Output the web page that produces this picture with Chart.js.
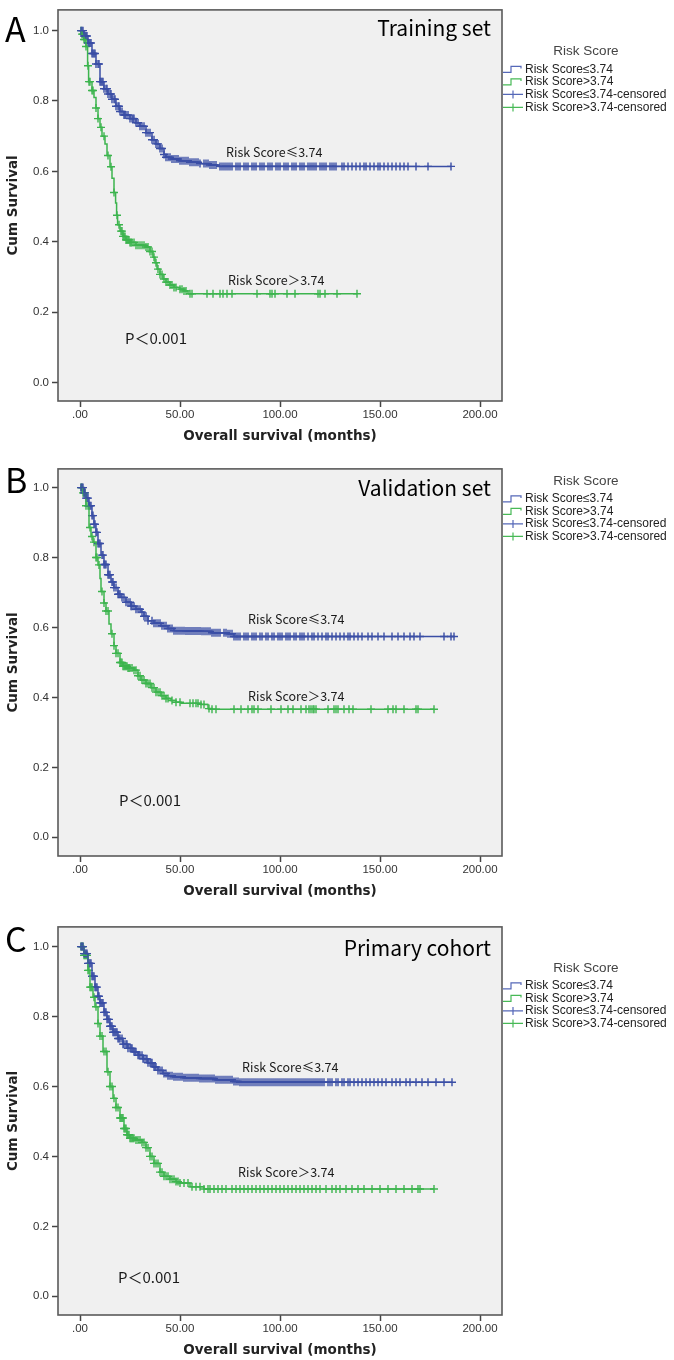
<!DOCTYPE html>
<html><head><meta charset="utf-8">
<script src="https://cdn.jsdelivr.net/npm/chart.js@4.4.0/dist/chart.umd.min.js"></script>
<style>
html,body{margin:0;padding:0;background:#fff;width:674px;height:1360px;overflow:hidden;}
canvas{position:absolute;left:0;display:block;}
</style></head><body>
<canvas id="cA" width="674" height="452" style="top:0px"></canvas>
<canvas id="cB" width="674" height="452" style="top:459px"></canvas>
<canvas id="cC" width="674" height="443" style="top:917px"></canvas>
<script>
// ---------- tick labels & texts ----------
const xTickValues = [0, 50, 100, 150, 200];
const xTickLabels = ['.00', '50.00', '100.00', '150.00', '200.00'];
const yTickValues = [0, 0.2, 0.4, 0.6, 0.8, 1.0];
const yTickLabels = ['0.0', '0.2', '0.4', '0.6', '0.8', '1.0'];
const legendTitle = 'Risk Score';
const legendLabels = ['Risk Score≤3.74', 'Risk Score>3.74', 'Risk Score≤3.74-censored', 'Risk Score>3.74-censored'];
const curveLabelLow = 'Risk Score≤3.74';
const curveLabelHigh = 'Risk Score＞3.74';
const pLabel = 'P＜0.001';
const panelLetters = ['A', 'B', 'C'];
const panelTitles = ['Training set', 'Validation set', 'Primary cohort'];
const xTitle = 'Overall survival (months)';
const yTitle = 'Cum Survival';

// ---------- Panel A: Training set ----------
const tA_low = [0, 2, 4, 6, 8, 10, 12, 14, 16, 18, 20, 22, 25, 28, 30, 33, 36, 38, 40, 42, 43, 46, 50, 55, 60, 65, 69, 185.5];
const sA_low = [1.0, 0.985, 0.965, 0.935, 0.905, 0.855, 0.835, 0.82, 0.805, 0.785, 0.77, 0.76, 0.75, 0.738, 0.728, 0.71, 0.69, 0.678, 0.665, 0.648, 0.64, 0.635, 0.63, 0.626, 0.622, 0.618, 0.614, 0.614];
const cA_low = [0.5,1,1.5,2,2.5,3,3.5,4,4.5,5,5.5,6,6.5,7,7.5,8,9,9.5,10,10.5,11,11.5,12,13,13.5,14,15,15.5,16,17,17.5,18,19,19.5,20,21,22,22.5,23,24,25,26,26.5,27,28,29,30,31,32,33,34,35,36,37,38,39,40,41,42,43,44,45,46,47,48,49,50,51,52,53,54,55,56,57,58,59,60,62,63,64,65,66,67,68,70,71,72,73,74,75,76,78,79,80,82,83,84,86,87,88,90,91,92,94,95,96,98,99,100,102,103,104,106,107,108,110,111,112,114,115,116,117,118,120,121,122,123,125,126,127,128,131,132,134,136,138,140,142,143,145,147,149,150,152,154,156,158,160,162,164,168,174,185.5];
const tA_high = [0, 1, 2, 3, 3.8, 4.3, 6, 7, 8, 9, 10, 11, 12.5, 13.5, 15, 16, 17, 17.8, 18.3, 18.8, 20, 21.5, 23, 25, 28, 33, 35, 36.5, 37.5, 38.5, 40, 41.5, 43, 45, 47, 50, 52, 54, 138.5];
const sA_high = [1.0, 0.99, 0.975, 0.955, 0.90, 0.855, 0.83, 0.81, 0.78, 0.75, 0.725, 0.70, 0.678, 0.645, 0.613, 0.58, 0.54, 0.51, 0.475, 0.448, 0.43, 0.415, 0.405, 0.398, 0.39, 0.385, 0.372, 0.356, 0.34, 0.322, 0.307, 0.294, 0.285, 0.277, 0.27, 0.265, 0.26, 0.252, 0.252];
const cA_high = [0.5,1,1.5,2,2.5,3,4,4.5,5,6,6.5,8,9,10.5,12,14,15.5,17,18.5,19.5,20.5,21,21.5,22,22.5,23,23.5,24,24.5,25,25.5,26,27,28,29,30,31,32,33,34,35,36,37,38,39,40,41,42,43,44,45,46,47,48,50,51,52,53,55,56,63.5,66.5,70,71.5,73.5,76,88.5,95,96,97.5,103.5,107.5,119,120,122.5,128.5,138.5];

// ---------- Panel B: Validation set ----------
const tB_low = [0, 2, 3, 4.5, 6, 7, 8, 9, 10.5, 12, 14, 15.5, 17, 19, 20.5, 23, 25.5, 28, 30.5, 32, 34, 37, 40.5, 44, 47, 53, 60.5, 66, 74, 77, 187];
const sB_low = [1.0, 0.985, 0.97, 0.948, 0.92, 0.895, 0.872, 0.84, 0.807, 0.78, 0.751, 0.73, 0.714, 0.695, 0.686, 0.672, 0.661, 0.652, 0.644, 0.632, 0.619, 0.612, 0.605, 0.597, 0.591, 0.59, 0.589, 0.585, 0.582, 0.574, 0.574];
const cB_low = [0.5,1,1.5,2,2.5,3,3.5,4,4.5,5,5.5,6,6.5,7,7.5,8,8.5,9,9.5,10,11,11.5,12,12.5,13,14,14.5,15,16,16.5,17,18,19,19.5,20,21,22,23,24,25,25.5,26,27,28,29,30,31,32,33,34,36,37,38,39,40,41,42,43,44,45,46,47,48,49,50,51,52,53,54,55,56,57,58,59,60,61,62,63,64,65,66,67,68,69,70,72,73,74,75,76,77,78,79,80,82,83,84,86,87,88,90,91,93,94,96,97,99,100,101,103,104,105,107,108,110,111,112,114,116,117,119,121,123,124,126,128,130,132,134,135,137,139,141,144,146,149,152,156,159,162,165,167,170,182,185.5,187];
const tB_high = [0, 1.5, 3, 4.5, 5.5, 6.5, 8, 9, 10, 10.5, 12, 13, 14.5, 15.5, 17, 18, 20, 21.5, 24, 27, 29, 30.5, 33, 35.5, 38, 40.5, 43, 45.5, 48, 50.5, 60.5, 64, 66, 177];
const sB_high = [1.0, 0.985, 0.948, 0.886, 0.86, 0.844, 0.80, 0.779, 0.74, 0.703, 0.67, 0.647, 0.61, 0.582, 0.548, 0.526, 0.50, 0.489, 0.484, 0.478, 0.462, 0.45, 0.44, 0.428, 0.415, 0.405, 0.397, 0.391, 0.386, 0.383, 0.38, 0.368, 0.366, 0.366];
const cB_high = [0.5,1,1.5,2,2.5,3,4,5,6,7,8,8.5,9.5,11,12,13,14,16,17,18,19,20,20.5,21,21.5,22,22.5,23,23.5,24,24.5,25,26,27,28,29,30,31,32,33,34,35,36,37,38,39,40,41,42,43,44,46,48,50,55,56.5,58,59,60.5,62,64.5,66,68,77,80.5,84,86,87,89,95.5,100.5,104,106.5,110.5,113,114.5,115.5,116.5,117,118,124,127,128,129,132,134.5,136.5,145.5,154,156.5,158,162,168,169,177];

// ---------- Panel C: Primary cohort ----------
const tC_low = [0, 2, 4, 6, 7.5, 9, 10, 12, 13.5, 15, 16.5, 19, 21.5, 24, 26.5, 29, 31.5, 34, 36.5, 39, 41.5, 44, 46.5, 52, 60, 68, 76.5, 80, 186];
const sC_low = [1.0, 0.98, 0.952, 0.915, 0.884, 0.858, 0.839, 0.812, 0.792, 0.772, 0.755, 0.737, 0.721, 0.709, 0.699, 0.689, 0.679, 0.668, 0.656, 0.646, 0.637, 0.631, 0.628, 0.625, 0.623, 0.619, 0.614, 0.612, 0.612];
const cC_low = [0.5,1,1.5,2,2.5,3,3.5,4,4.5,5,5.5,6,6.5,7,7.5,8,8.5,9,9.5,10,10.5,11,11.5,12,12.5,13,13.5,14,14.5,15,15.5,16,16.5,17,17.5,18,18.5,19,19.5,20,21,21.5,22,23,23.5,24,25,25.5,26,27,27.5,28,29,29.5,30,31,31.5,32,33,33.5,34,35,35.5,36,37,37.5,38,39,40,41,42,43,44,45,46,47,48,49,50,51,52,53,54,55,56,57,58,59,60,61,62,63,64,65,66,67,68,69,70,71,72,73,74,75,76,77,78,79,80,81,82,83,84,85,86,87,88,89,90,91,92,93,94,95,96,97,98,99,100,101,102,103,104,105,106,107,108,109,110,111,112,113,114,115,116,117,118,119,120,121,122,124,125,126,128,129,131,132,134,135,137,139,141,143,145,147,149,151,153,156,158,160,163,165,168,171,174,178,182,186];
const tC_high = [0, 2, 4, 5, 6.5, 7.5, 9, 10, 11.5, 13.5, 15, 16.5, 18, 20, 22, 23.5, 25, 28, 31, 33, 35, 37, 40, 42, 45, 48, 50, 55, 62, 177];
const sC_high = [1.0, 0.975, 0.932, 0.884, 0.855, 0.828, 0.78, 0.744, 0.70, 0.642, 0.60, 0.566, 0.54, 0.51, 0.48, 0.462, 0.452, 0.447, 0.44, 0.425, 0.40, 0.38, 0.355, 0.343, 0.335, 0.328, 0.324, 0.313, 0.307, 0.307];
const cC_high = [0.5,1,1.5,2,2.5,3,3.5,4,4.5,5,5.5,6,7,8,9,10,11,12,13,14,15,16,17,18,19,20,20.5,21,21.5,22,22.5,23,23.5,24,24.5,25,25.5,26,26.5,27,28,29,30,31,32,33,34,35,36,37,38,39,40,41,42,43,44,45,46,47,48,49,50,52,54,56,58,60,62,64,65,67,69,71,73,76,78,80,82,84,86,88,90,92,94,96,98,100,102,104,106,108,110,112,114,116,118,120,123,126,128,130,133,136,139,142,146,150,154,158,162,166,169,170,177];

// ---------- styling / layout ----------
const BLUE = '#3a4ea5';
const GREEN = '#3cb44e';
const BLUE_LEG = '#5568b8';
const GREEN_LEG = '#47b956';

const panels = [
  { id: 'cA', idx: 0, boxH: 397, yMin: -0.053, yMax: 1.059,
    lowT: tA_low, lowS: sA_low, lowC: cA_low, highT: tA_high, highS: sA_high, highC: cA_high,
    lblLow: [73, 0.655], lblHigh: [74, 0.289], pPos: [22.5, 0.126],
    letterY: 19, titleY: 18, legTitleY: 41, legY: [59.5, 72, 84.5, 97.5] },
  { id: 'cB', idx: 1, boxH: 393, yMin: -0.0535, yMax: 1.0535,
    lowT: tB_low, lowS: sB_low, lowC: cB_low, highT: tB_high, highS: sB_high, highC: cB_high,
    lblLow: [84, 0.623], lblHigh: [84, 0.403], pPos: [19.5, 0.107],
    letterY: 11, titleY: 19, legTitleY: 12, legY: [30, 42.5, 55, 67.5] },
  { id: 'cC', idx: 2, boxH: 394, yMin: -0.0535, yMax: 1.0563,
    lowT: tC_low, lowS: sC_low, lowC: cC_low, highT: tC_high, highS: sC_high, highC: cC_high,
    lblLow: [81, 0.654], lblHigh: [79, 0.355], pPos: [19, 0.054],
    letterY: 12, titleY: 21, legTitleY: 41, legY: [59, 71.5, 84, 96.5] }
];

function survAt(ts, ss, t) {
  let v = ss[0];
  for (let i = 0; i < ts.length; i++) { if (ts[i] <= t) v = ss[i]; else break; }
  return v;
}
function curveData(ts, ss) { return ts.map((t, i) => ({ x: t, y: ss[i] })); }
function censData(ts, ss, cs) { return cs.map(t => ({ x: t, y: survAt(ts, ss, t) })); }

function panelPlugin(p) {
  return {
    id: 'panelDeco' + p.idx,
    beforeDatasetsDraw(chart) {
      const a = chart.chartArea, c = chart.ctx;
      c.save();
      c.fillStyle = '#f0f0f0';
      c.fillRect(a.left, a.top, a.right - a.left, a.bottom - a.top);
      c.restore();
    },
    afterDraw(chart) {
      const a = chart.chartArea, c = chart.ctx;
      const xs = chart.scales.x, ys = chart.scales.y;
      c.save();
      c.strokeStyle = '#5a5a5a';
      c.lineWidth = 1.6;
      c.strokeRect(a.left, a.top, a.right - a.left, a.bottom - a.top);
      c.fillStyle = '#000';
      c.textBaseline = 'middle';
      c.textAlign = 'left';
      c.font = '34px "Noto Sans CJK SC", "Open Sans", sans-serif';
      c.fillText(panelLetters[p.idx], 5, a.top + p.letterY);
      c.textAlign = 'right';
      c.font = '21px "Noto Sans CJK SC", "Open Sans", sans-serif';
      c.fillText(panelTitles[p.idx], a.right - 11, a.top + p.titleY);
      c.textAlign = 'left';
      c.fillStyle = '#1a1a1a';
      c.font = '12.5px "Noto Sans CJK SC", "Open Sans", sans-serif';
      c.fillText(curveLabelLow, xs.getPixelForValue(p.lblLow[0]), ys.getPixelForValue(p.lblLow[1]));
      c.fillText(curveLabelHigh, xs.getPixelForValue(p.lblHigh[0]), ys.getPixelForValue(p.lblHigh[1]));
      c.font = '15px "Noto Sans CJK SC", "Open Sans", sans-serif';
      c.fillText(pLabel, xs.getPixelForValue(p.pPos[0]), ys.getPixelForValue(p.pPos[1]));
      c.fillStyle = '#444';
      c.textAlign = 'center';
      c.font = '13.5px "Liberation Sans", Arial, sans-serif';
      c.fillText(legendTitle, 586, a.top + p.legTitleY);
      const cols = [BLUE_LEG, GREEN_LEG, BLUE_LEG, GREEN_LEG];
      c.textAlign = 'left';
      c.font = '12px "Liberation Sans", Arial, sans-serif';
      for (let i = 0; i < 4; i++) {
        const y = a.top + p.legY[i];
        c.strokeStyle = cols[i];
        c.lineWidth = 1.2;
        c.beginPath();
        if (i < 2) {
          c.moveTo(503, y + 3); c.lineTo(511, y + 3); c.lineTo(511, y - 3); c.lineTo(521, y - 3); c.lineTo(521, y - 1);
        } else {
          c.moveTo(503, y); c.lineTo(523, y); c.moveTo(513, y - 4); c.lineTo(513, y + 4);
        }
        c.stroke();
        c.fillStyle = '#222';
        c.fillText(legendLabels[i], 525, y);
      }
      c.restore();
    }
  };
}

function makeChart(p) {
  const canvas = document.getElementById(p.id);
  const H = canvas.height;
  const boxBottom = 4 + p.boxH;
  const xh = H - boxBottom;
  const tSize = 13.5, lh = tSize * 1.2;
  const titleFont = { family: 'DejaVu Sans', size: tSize, weight: 'bold' };
  const tickFont = { family: 'Liberation Sans', size: 11.5 };
  new Chart(canvas, {
    type: 'line',
    data: {
      datasets: [
        { data: curveData(p.lowT, p.lowS), borderColor: BLUE, borderWidth: 1.5, stepped: 'before', pointRadius: 0, fill: false },
        { data: curveData(p.highT, p.highS), borderColor: GREEN, borderWidth: 1.5, stepped: 'before', pointRadius: 0, fill: false },
        { data: censData(p.lowT, p.lowS, p.lowC), showLine: false, pointStyle: 'cross', pointRadius: 4, pointBorderWidth: 1.4, borderColor: BLUE, backgroundColor: BLUE },
        { data: censData(p.highT, p.highS, p.highC), showLine: false, pointStyle: 'cross', pointRadius: 4, pointBorderWidth: 1.4, borderColor: GREEN, backgroundColor: GREEN }
      ]
    },
    options: {
      responsive: false, animation: false, devicePixelRatio: 1, events: [],
      layout: { padding: { left: 0, top: 4, right: 172, bottom: 0 } },
      plugins: { legend: { display: false }, tooltip: { enabled: false } },
      scales: {
        x: {
          type: 'linear', min: -11, max: 211,
          afterBuildTicks: s => { s.ticks = xTickValues.map(v => ({ value: v })); },
          afterFit: s => { s.height = xh; },
          ticks: { callback: (v, i) => xTickLabels[i], autoSkip: false, maxRotation: 0, padding: 1, font: tickFont, color: '#333' },
          grid: { drawOnChartArea: false, drawTicks: true, tickLength: 6, tickColor: '#444', tickWidth: 1.5 },
          border: { display: false },
          title: { display: true, text: xTitle, font: titleFont, color: '#222', padding: { top: 0, bottom: Math.max(0, xh - 35 - lh / 2) } }
        },
        y: {
          type: 'linear', min: p.yMin, max: p.yMax,
          afterBuildTicks: s => { s.ticks = yTickValues.map(v => ({ value: v })); },
          afterFit: s => { s.width = 58; },
          ticks: { callback: (v, i) => yTickLabels[i], autoSkip: false, padding: 3, font: tickFont, color: '#333' },
          grid: { drawOnChartArea: false, drawTicks: true, tickLength: 6, tickColor: '#444', tickWidth: 1.5 },
          border: { display: false },
          title: { display: true, text: yTitle, font: titleFont, color: '#222', padding: { top: 5, bottom: 0 } }
        }
      }
    },
    plugins: [panelPlugin(p)]
  });
}

panels.forEach(makeChart);
</script>
</body></html>
